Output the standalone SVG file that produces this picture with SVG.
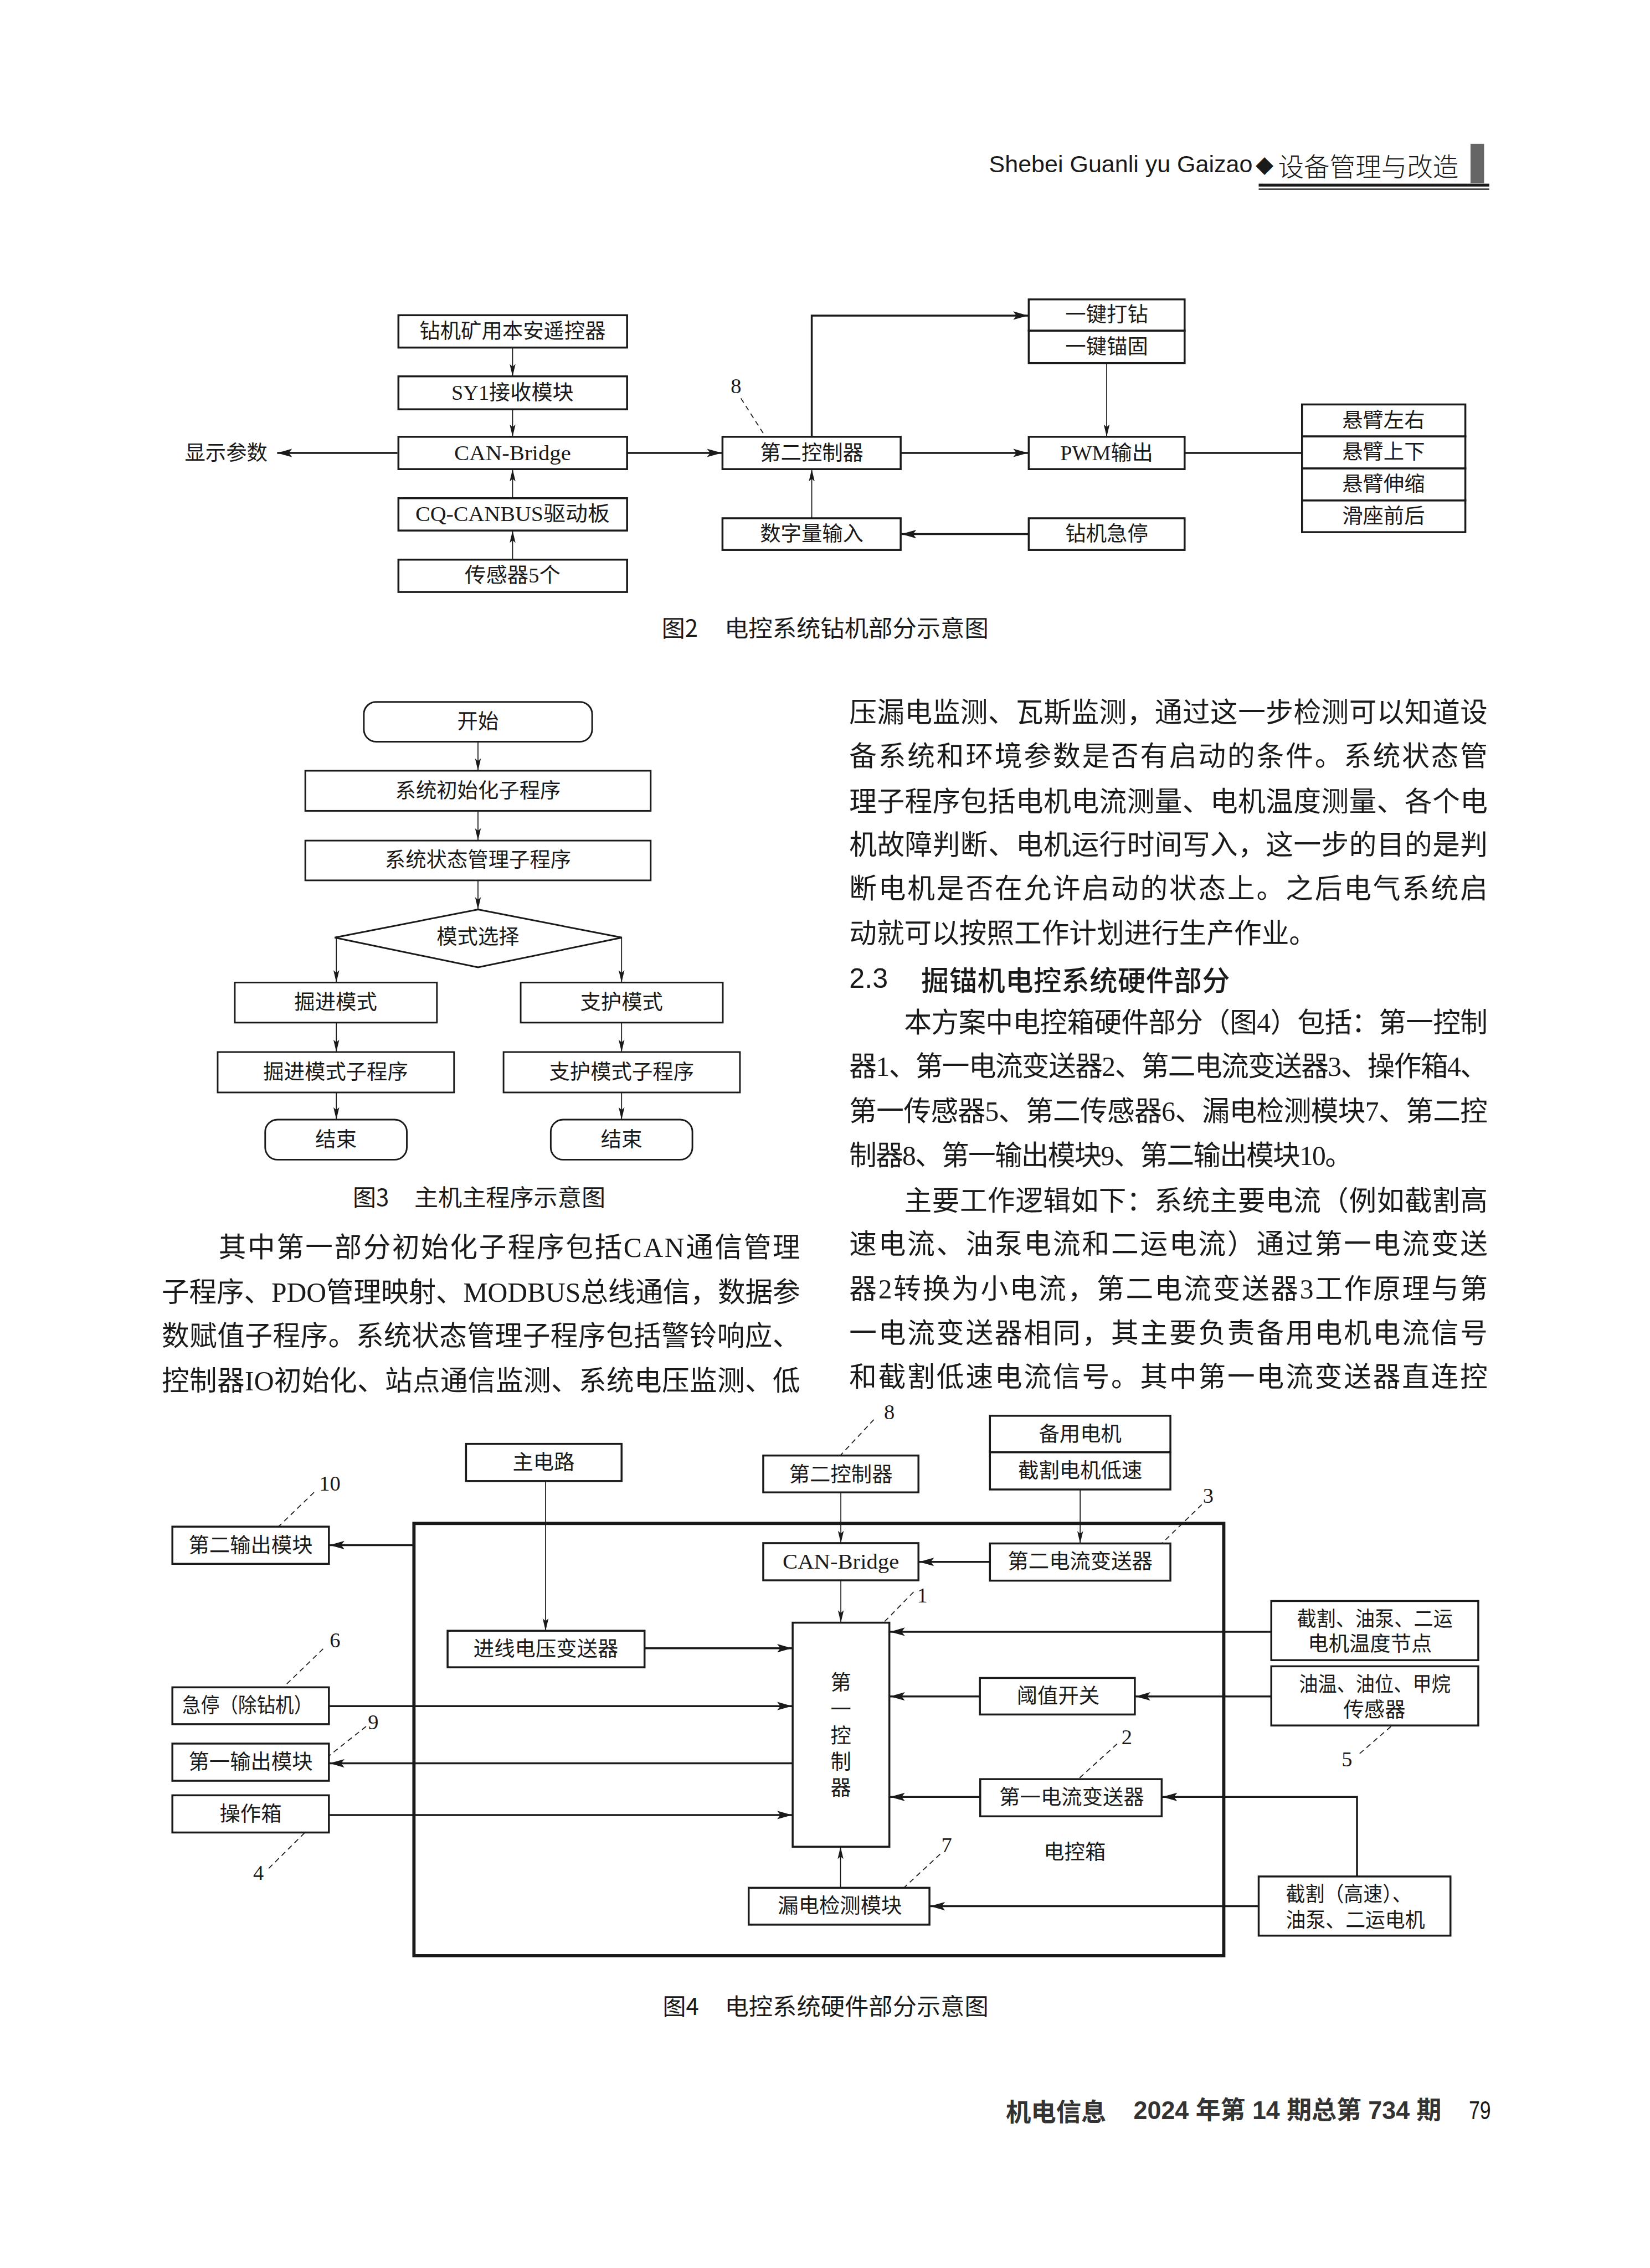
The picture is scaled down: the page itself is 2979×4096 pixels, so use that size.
<svg xmlns="http://www.w3.org/2000/svg" width="2979" height="4096" viewBox="0 0 2979 4096">
<defs>
<style>
.bx{fill:#fff;stroke:#1a1a1a;stroke-width:6}
.bx3{fill:#fff;stroke:#1a1a1a;stroke-width:5}
.ln{fill:none;stroke:#1a1a1a;stroke-width:3}
.lk{fill:none;stroke:#1a1a1a;stroke-width:6}
.ds{fill:none;stroke:#1a1a1a;stroke-width:3;stroke-dasharray:16 12}
.fr{fill:none;stroke:#1a1a1a;stroke-width:10}
.t{font-family:'Liberation Serif','Noto Sans CJK SC',serif;font-size:64px;text-anchor:middle;dominant-baseline:central;fill:#1a1a1a}
.n{font-family:'Liberation Serif',serif;font-size:66px;text-anchor:middle;dominant-baseline:central;fill:#1a1a1a}
.cap{font-family:'Noto Sans CJK SC',sans-serif;font-size:72px;dominant-baseline:central;fill:#1a1a1a}
.b{font-family:'Liberation Serif','Noto Sans CJK SC',serif;font-size:85px;dominant-baseline:central;fill:#1a1a1a}
</style>
<marker id="aT" markerUnits="userSpaceOnUse" viewBox="0 0 40 24" markerWidth="40" markerHeight="24" refX="38" refY="12" orient="auto"><path d="M0,3 L38,12 L0,21 L8,12 Z" fill="#1a1a1a"/></marker>
<marker id="aK" markerUnits="userSpaceOnUse" viewBox="0 0 48 32" markerWidth="48" markerHeight="32" refX="46" refY="16" orient="auto"><path d="M0,3 L46,16 L0,29 L10,16 Z" fill="#1a1a1a"/></marker>
</defs>
<rect width="2979" height="4096" fill="#fff"/>
<g transform="scale(0.58389)">
<!-- header -->
<g id="header">
<text x="3058" y="533" font-family="'Liberation Sans',sans-serif" font-size="74" textLength="815" lengthAdjust="spacingAndGlyphs" fill="#1a1a1a">Shebei Guanli yu Gaizao</text>
<text x="3910" y="510" font-family="'Noto Sans CJK SC',sans-serif" font-size="56" text-anchor="middle" dominant-baseline="central" fill="#1a1a1a">◆</text>
<text x="3952" y="510" font-family="'Noto Sans CJK SC',sans-serif" font-size="80" font-weight="300" textLength="558" lengthAdjust="spacingAndGlyphs" dominant-baseline="central" fill="#1a1a1a">设备管理与改造</text>
<rect x="4547" y="445" width="42" height="122" fill="#666"/>
<rect x="3892" y="568" width="713" height="9" fill="#1a1a1a"/>
<rect x="3892" y="583" width="713" height="4" fill="#1a1a1a"/>
</g>

<!-- ============ Figure 2 ============ -->
<g id="fig2-connectors">
<line class="ln" x1="1585" y1="1075" x2="1585" y2="1164" marker-end="url(#aT)"/>
<line class="ln" x1="1585" y1="1266" x2="1585" y2="1351" marker-end="url(#aT)"/>
<line class="ln" x1="1585" y1="1541" x2="1585" y2="1451" marker-end="url(#aT)"/>
<line class="ln" x1="1585" y1="1731" x2="1585" y2="1641" marker-end="url(#aT)"/>
<line class="lk" x1="1229" y1="1401" x2="857" y2="1401" marker-end="url(#aK)"/>
<line class="lk" x1="1939" y1="1401" x2="2232" y2="1401" marker-end="url(#aK)"/>
<line class="ln" x1="2510" y1="1603" x2="2510" y2="1451" marker-end="url(#aT)"/>
<polyline class="lk" points="2510,1351 2510,976 3179,976" marker-end="url(#aK)"/>
<line class="ln" x1="3422" y1="1123" x2="3422" y2="1351" marker-end="url(#aT)"/>
<line class="lk" x1="2785" y1="1401" x2="3179" y2="1401" marker-end="url(#aK)"/>
<line class="lk" x1="3663" y1="1401" x2="4026" y2="1401"/>
<line class="lk" x1="3181" y1="1652" x2="2787" y2="1652" marker-end="url(#aK)"/>
<line class="ds" x1="2291" y1="1232" x2="2367" y2="1351"/>
</g>
<g id="f2-remote"><rect class="bx" x="1232" y="975" width="707" height="100"/><text class="t" x="1585" y="1025">钻机矿用本安遥控器</text></g>
<g id="f2-sy1"><rect class="bx" x="1232" y="1164" width="707" height="102"/><text class="t" x="1585" y="1215" textLength="378" lengthAdjust="spacingAndGlyphs">SY1接收模块</text></g>
<g id="f2-canbridge"><rect class="bx" x="1232" y="1351" width="707" height="100"/><text class="t" x="1585" y="1401" textLength="361" lengthAdjust="spacingAndGlyphs">CAN-Bridge</text></g>
<g id="f2-cqcanbus"><rect class="bx" x="1232" y="1541" width="707" height="100"/><text class="t" x="1585" y="1591" textLength="601" lengthAdjust="spacingAndGlyphs">CQ-CANBUS驱动板</text></g>
<g id="f2-sensor"><rect class="bx" x="1232" y="1731" width="707" height="100"/><text class="t" x="1585" y="1781" textLength="296" lengthAdjust="spacingAndGlyphs">传感器5个</text></g>
<g id="f2-display"><text class="t" x="699" y="1401">显示参数</text></g>
<g id="f2-ctrl2"><rect class="bx" x="2234" y="1351" width="551" height="100"/><text class="t" x="2510" y="1401">第二控制器</text></g>
<g id="f2-label8"><text class="n" x="2276" y="1194">8</text></g>
<g id="f2-digital"><rect class="bx" x="2234" y="1603" width="551" height="98"/><text class="t" x="2510" y="1652">数字量输入</text></g>
<g id="f2-onekey"><rect class="bx" x="3181" y="926" width="482" height="97"/><text class="t" x="3422" y="974">一键打钻</text><rect class="bx" x="3181" y="1023" width="482" height="100"/><text class="t" x="3422" y="1073">一键锚固</text></g>
<g id="f2-pwm"><rect class="bx" x="3181" y="1351" width="482" height="100"/><text class="t" x="3422" y="1401" textLength="287" lengthAdjust="spacingAndGlyphs">PWM输出</text></g>
<g id="f2-estop"><rect class="bx" x="3181" y="1603" width="482" height="98"/><text class="t" x="3422" y="1652">钻机急停</text></g>
<g id="f2-arm">
<rect class="bx" x="4026" y="1251" width="505" height="99"/><text class="t" x="4278" y="1300">悬臂左右</text>
<rect class="bx" x="4026" y="1350" width="505" height="99"/><text class="t" x="4278" y="1399">悬臂上下</text>
<rect class="bx" x="4026" y="1449" width="505" height="99"/><text class="t" x="4278" y="1498">悬臂伸缩</text>
<rect class="bx" x="4026" y="1548" width="505" height="98"/><text class="t" x="4278" y="1597">滑座前后</text>
</g>
<g id="f2-caption"><text class="cap" x="2046" y="1938">图2</text><text class="cap" x="2240" y="1938" textLength="817" lengthAdjust="spacingAndGlyphs">电控系统钻机部分示意图</text></g>

<!-- ============ Figure 3 ============ -->
<g id="fig3-connectors">
<line class="ln" x1="1478" y1="2294" x2="1478" y2="2384" marker-end="url(#aT)"/>
<line class="ln" x1="1478" y1="2508" x2="1478" y2="2600" marker-end="url(#aT)"/>
<line class="ln" x1="1478" y1="2723" x2="1478" y2="2813" marker-end="url(#aT)"/>
<line class="ln" x1="1040" y1="2900" x2="1040" y2="3039" marker-end="url(#aT)"/>
<line class="ln" x1="1922" y1="2900" x2="1922" y2="3039" marker-end="url(#aT)"/>
<line class="ln" x1="1040" y1="3163" x2="1040" y2="3254" marker-end="url(#aT)"/>
<line class="ln" x1="1922" y1="3163" x2="1922" y2="3254" marker-end="url(#aT)"/>
<line class="ln" x1="1040" y1="3379" x2="1040" y2="3463" marker-end="url(#aT)"/>
<line class="ln" x1="1922" y1="3379" x2="1922" y2="3463" marker-end="url(#aT)"/>
</g>
<g id="f3-start"><rect class="bx3" x="1125" y="2171" width="706" height="123" rx="38"/><text class="t" x="1478" y="2232">开始</text></g>
<g id="f3-init"><rect class="bx3" x="944" y="2384" width="1068" height="124"/><text class="t" x="1478" y="2446">系统初始化子程序</text></g>
<g id="f3-state"><rect class="bx3" x="944" y="2600" width="1068" height="123"/><text class="t" x="1478" y="2661">系统状态管理子程序</text></g>
<g id="f3-mode"><polygon class="bx3" points="1478,2813 1923,2900 1478,2992 1035,2900"/><text class="t" x="1478" y="2898">模式选择</text></g>
<g id="f3-dig"><rect class="bx3" x="726" y="3039" width="625" height="124"/><text class="t" x="1038" y="3101">掘进模式</text></g>
<g id="f3-sup"><rect class="bx3" x="1610" y="3039" width="625" height="124"/><text class="t" x="1922" y="3101">支护模式</text></g>
<g id="f3-digsub"><rect class="bx3" x="673" y="3254" width="731" height="125"/><text class="t" x="1038" y="3316">掘进模式子程序</text></g>
<g id="f3-supsub"><rect class="bx3" x="1557" y="3254" width="731" height="125"/><text class="t" x="1922" y="3316">支护模式子程序</text></g>
<g id="f3-end1"><rect class="bx3" x="820" y="3463" width="438" height="124" rx="38"/><text class="t" x="1039" y="3525">结束</text></g>
<g id="f3-end2"><rect class="bx3" x="1703" y="3463" width="438" height="124" rx="38"/><text class="t" x="1922" y="3525">结束</text></g>
<g id="f3-caption"><text class="cap" x="1091" y="3698" font-size="74">图3</text><text class="cap" x="1281" y="3698" font-size="74" textLength="591" lengthAdjust="spacingAndGlyphs">主机主程序示意图</text></g>

<!-- ============ Body text ============ -->
<g id="body-left">
<text class="b" x="676" y="3860" textLength="1798">其中第一部分初始化子程序包括CAN通信管理</text>
<text class="b" x="500" y="3998" textLength="1974">子程序、PDO管理映射、MODBUS总线通信，数据参</text>
<text class="b" x="500" y="4134" textLength="1974">数赋值子程序。系统状态管理子程序包括警铃响应、</text>
<text class="b" x="500" y="4272" textLength="1974">控制器IO初始化、站点通信监测、系统电压监测、低</text>
</g>
<g id="body-right">
<text class="b" x="2626" y="2205" textLength="1974">压漏电监测、瓦斯监测，通过这一步检测可以知道设</text>
<text class="b" x="2626" y="2341" textLength="1974">备系统和环境参数是否有启动的条件。系统状态管</text>
<text class="b" x="2626" y="2480" textLength="1974">理子程序包括电机电流测量、电机温度测量、各个电</text>
<text class="b" x="2626" y="2615" textLength="1974">机故障判断、电机运行时间写入，这一步的目的是判</text>
<text class="b" x="2626" y="2750" textLength="1974">断电机是否在允许启动的状态上。之后电气系统启</text>
<text class="b" x="2626" y="2888">动就可以按照工作计划进行生产作业。</text>
<text x="2626" y="3026" font-family="'Liberation Sans',sans-serif" font-size="86" dominant-baseline="central" fill="#1a1a1a">2.3</text>
<text x="2848" y="3026" font-family="'Noto Sans CJK SC',sans-serif" font-size="86" font-weight="500" textLength="955" dominant-baseline="central" fill="#1a1a1a">掘锚机电控系统硬件部分</text>
<text class="b" x="2796" y="3164" textLength="1804">本方案中电控箱硬件部分（图4）包括：第一控制</text>
<text class="b" x="2626" y="3300" textLength="1974">器1、第一电流变送器2、第二电流变送器3、操作箱4、</text>
<text class="b" x="2626" y="3438" textLength="1974">第一传感器5、第二传感器6、漏电检测模块7、第二控</text>
<text class="b" x="2626" y="3575" textLength="1556">制器8、第一输出模块9、第二输出模块10。</text>
<text class="b" x="2796" y="3716" textLength="1804">主要工作逻辑如下：系统主要电流（例如截割高</text>
<text class="b" x="2626" y="3850" textLength="1974">速电流、油泵电流和二运电流）通过第一电流变送</text>
<text class="b" x="2626" y="3988" textLength="1974">器2转换为小电流，第二电流变送器3工作原理与第</text>
<text class="b" x="2626" y="4125" textLength="1974">一电流变送器相同，其主要负责备用电机电流信号</text>
<text class="b" x="2626" y="4260" textLength="1974">和截割低速电流信号。其中第一电流变送器直连控</text>
</g>

<!-- ============ Figure 4 ============ -->
<g id="fig4-connectors">
<rect class="fr" x="1280" y="4712" width="2504" height="1337"/>
<line class="ln" x1="1687" y1="4581" x2="1687" y2="5044" marker-end="url(#aT)"/>
<line class="ln" x1="2600" y1="4616" x2="2600" y2="4773" marker-end="url(#aT)"/>
<line class="ln" x1="2600" y1="4888" x2="2600" y2="5019" marker-end="url(#aT)"/>
<line class="ln" x1="3340" y1="4607" x2="3340" y2="4774" marker-end="url(#aT)"/>
<line class="lk" x1="3061" y1="4831" x2="2842" y2="4831" marker-end="url(#aK)"/>
<line class="lk" x1="1280" y1="4779" x2="1019" y2="4779" marker-end="url(#aK)"/>
<line class="lk" x1="1993" y1="5098" x2="2449" y2="5098" marker-end="url(#aK)"/>
<line class="lk" x1="1017" y1="5277" x2="2449" y2="5277" marker-end="url(#aK)"/>
<line class="lk" x1="2451" y1="5454" x2="1019" y2="5454" marker-end="url(#aK)"/>
<line class="lk" x1="1017" y1="5614" x2="2449" y2="5614" marker-end="url(#aK)"/>
<line class="lk" x1="3931" y1="5047" x2="2752" y2="5047" marker-end="url(#aK)"/>
<line class="lk" x1="3931" y1="5247" x2="3511" y2="5247" marker-end="url(#aK)"/>
<line class="lk" x1="3030" y1="5247" x2="2752" y2="5247" marker-end="url(#aK)"/>
<line class="lk" x1="3031" y1="5558" x2="2752" y2="5558" marker-end="url(#aK)"/>
<polyline class="lk" points="4196,5804 4196,5558 3594,5558" marker-end="url(#aK)"/>
<line class="lk" x1="3892" y1="5896" x2="2876" y2="5896" marker-end="url(#aK)"/>
<line class="ln" x1="2599" y1="5839" x2="2599" y2="5712" marker-end="url(#aT)"/>
<line class="ds" x1="2702" y1="4391" x2="2600" y2="4500"/>
<line class="ds" x1="3716" y1="4654" x2="3592" y2="4774"/>
<line class="ds" x1="2825" y1="4924" x2="2732" y2="5019"/>
<line class="ds" x1="3454" y1="5394" x2="3334" y2="5503"/>
<line class="ds" x1="4301" y1="5340" x2="4196" y2="5431"/>
<line class="ds" x1="2907" y1="5735" x2="2795" y2="5839"/>
<line class="ds" x1="971" y1="4616" x2="862" y2="4721"/>
<line class="ds" x1="999" y1="5100" x2="880" y2="5215"/>
<line class="ds" x1="1132" y1="5340" x2="1017" y2="5431"/>
<line class="ds" x1="831" y1="5779" x2="943" y2="5668"/>
</g>
<g id="f4-main"><rect class="bx" x="1441" y="4466" width="481" height="115"/><text class="t" x="1681" y="4524">主电路</text></g>
<g id="f4-vin"><rect class="bx" x="1384" y="5044" width="609" height="113"/><text class="t" x="1688" y="5101">进线电压变送器</text></g>
<g id="f4-out2"><rect class="bx" x="533" y="4722" width="484" height="115"/><text class="t" x="775" y="4781">第二输出模块</text></g>
<g id="f4-estop"><rect class="bx" x="533" y="5219" width="484" height="114"/><text class="t" x="765" y="5276" textLength="403" lengthAdjust="spacingAndGlyphs">急停（除钻机）</text></g>
<g id="f4-out1"><rect class="bx" x="533" y="5393" width="484" height="115"/><text class="t" x="775" y="5451">第一输出模块</text></g>
<g id="f4-opbox"><rect class="bx" x="533" y="5553" width="484" height="115"/><text class="t" x="775" y="5611">操作箱</text></g>
<g id="f4-ctrl2"><rect class="bx" x="2360" y="4502" width="480" height="114"/><text class="t" x="2600" y="4561">第二控制器</text></g>
<g id="f4-canbridge"><rect class="bx" x="2360" y="4773" width="480" height="115"/><text class="t" x="2600" y="4831" textLength="360" lengthAdjust="spacingAndGlyphs">CAN-Bridge</text></g>
<g id="f4-ctrl1"><rect class="bx" x="2451" y="5019" width="299" height="693"/>
<text class="t" x="2600" y="5205">第</text><text class="t" x="2600" y="5287">一</text><text class="t" x="2600" y="5370">控</text><text class="t" x="2600" y="5451">制</text><text class="t" x="2600" y="5531">器</text></g>
<g id="f4-motor"><rect class="bx" x="3061" y="4379" width="558" height="113"/><text class="t" x="3340" y="4436">备用电机</text><rect class="bx" x="3061" y="4492" width="558" height="115"/><text class="t" x="3340" y="4550">截割电机低速</text></g>
<g id="f4-ct2"><rect class="bx" x="3061" y="4774" width="558" height="115"/><text class="t" x="3340" y="4831">第二电流变送器</text></g>
<g id="f4-temp"><rect class="bx" x="3931" y="4952" width="640" height="183"/><text class="t" x="4251" y="5008" textLength="482" lengthAdjust="spacingAndGlyphs">截割、油泵、二运</text><text class="t" x="4236" y="5086">电机温度节点</text></g>
<g id="f4-oil"><rect class="bx" x="3931" y="5154" width="640" height="183"/><text class="t" x="4251" y="5211" textLength="469" lengthAdjust="spacingAndGlyphs">油温、油位、甲烷</text><text class="t" x="4250" y="5289">传感器</text></g>
<g id="f4-threshold"><rect class="bx" x="3030" y="5190" width="479" height="113"/><text class="t" x="3272" y="5247">阈值开关</text></g>
<g id="f4-ct1"><rect class="bx" x="3031" y="5503" width="561" height="115"/><text class="t" x="3314" y="5560">第一电流变送器</text></g>
<g id="f4-leak"><rect class="bx" x="2315" y="5839" width="559" height="114"/><text class="t" x="2597" y="5896">漏电检测模块</text></g>
<g id="f4-motors"><rect class="bx" x="3892" y="5804" width="593" height="183"/><text class="t" x="3976" y="5859" text-anchor="start" style="text-anchor:start" textLength="389" lengthAdjust="spacingAndGlyphs">截割（高速）、</text><text class="t" x="3976" y="5940" style="text-anchor:start" textLength="430" lengthAdjust="spacingAndGlyphs">油泵、二运电机</text></g>
<g id="f4-boxlabel"><text class="t" x="3323" y="5729">电控箱</text></g>
<g id="f4-numbers">
<text class="n" x="2750" y="4367">8</text>
<text class="n" x="3736" y="4626">3</text>
<text class="n" x="2852" y="4935">1</text>
<text class="n" x="3484" y="5372">2</text>
<text class="n" x="4165" y="5441">5</text>
<text class="n" x="2927" y="5706">7</text>
<text class="n" x="1020" y="4588">10</text>
<text class="n" x="1036" y="5073">6</text>
<text class="n" x="1154" y="5326">9</text>
<text class="n" x="799" y="5793">4</text>
</g>
<g id="f4-caption"><text class="cap" x="2049" y="6201">图4</text><text class="cap" x="2241" y="6201" textLength="816" lengthAdjust="spacingAndGlyphs">电控系统硬件部分示意图</text></g>

<!-- footer -->
<g id="footer">
<text x="3110" y="6527" font-family="'Noto Sans CJK SC',sans-serif" font-size="78" font-weight="bold" textLength="311" lengthAdjust="spacingAndGlyphs" dominant-baseline="central" fill="#333">机电信息</text>
<text x="3505" y="6527" font-family="'Liberation Sans','Noto Sans CJK SC',sans-serif" font-size="78" font-weight="bold" textLength="952" lengthAdjust="spacingAndGlyphs" dominant-baseline="central" fill="#333">2024 年第 14 期总第 734 期</text>
<text x="4542" y="6527" font-family="'Liberation Sans',sans-serif" font-size="80" textLength="68" lengthAdjust="spacingAndGlyphs" dominant-baseline="central" fill="#1a1a1a">79</text>
</g>
</g>
</svg>
